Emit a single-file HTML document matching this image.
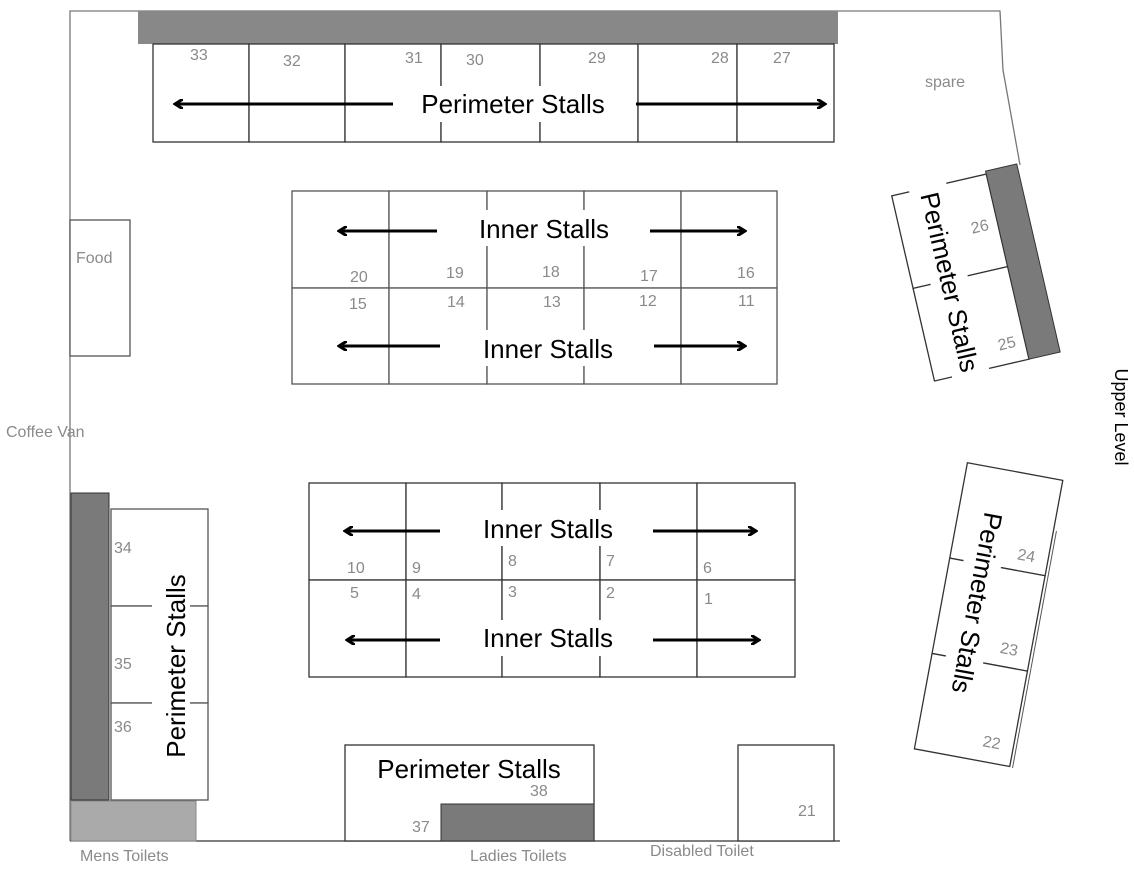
<!DOCTYPE html>
<html><head><meta charset="utf-8"><style>
html,body{margin:0;padding:0;background:#fff;}
svg{display:block;}
.n{font-family:"Liberation Sans",sans-serif;font-size:16px;fill:#8a8a8a;}
.b{font-family:"Liberation Sans",sans-serif;font-size:26px;fill:#000;}
.s{fill:#fff;stroke:#333;stroke-width:1.3;}
.a{stroke:#000;stroke-width:3;fill:none;}
</style></head><body>
<svg width="1134" height="869" viewBox="0 0 1134 869" xmlns="http://www.w3.org/2000/svg">
<defs><marker id="ah" markerWidth="10" markerHeight="10" refX="7" refY="5" orient="auto" markerUnits="userSpaceOnUse"><path d="M0,0 L8,5 L0,10" fill="none" stroke="#000" stroke-width="3"/></marker></defs>
<!-- walls -->
<polyline points="70,841 70,11 1000,11 1003,70 1020,165" fill="none" stroke="#777" stroke-width="1.3"/>
<line x1="70" y1="841" x2="840" y2="841" stroke="#333" stroke-width="1.3"/>
<!-- top -->
<rect x="138" y="11" width="700" height="33" fill="#888"/>
<g class="s">
<rect x="153" y="44" width="96" height="98"/><rect x="249" y="44" width="96" height="98"/><rect x="345" y="44" width="96" height="98"/><rect x="441" y="44" width="99" height="98"/><rect x="540" y="44" width="98" height="98"/><rect x="638" y="44" width="99" height="98"/><rect x="737" y="44" width="97" height="98"/>
</g>
<rect x="412" y="86" width="204" height="36" fill="#fff"/>
<g class="n"><text x="190" y="60">33</text><text x="283" y="66">32</text><text x="405" y="63">31</text><text x="466" y="65">30</text><text x="588" y="63">29</text><text x="711" y="63">28</text><text x="773" y="63">27</text><text x="925" y="87">spare</text></g>
<line class="a" x1="393" y1="104" x2="176" y2="104" marker-end="url(#ah)"/>
<line class="a" x1="636" y1="104" x2="824" y2="104" marker-end="url(#ah)"/>
<text class="b" x="513" y="113" text-anchor="middle">Perimeter Stalls</text>
<!-- inner block 1 -->
<g class="s" style="stroke:#555">
<rect x="292" y="191" width="97" height="97"/><rect x="389" y="191" width="98" height="97"/><rect x="487" y="191" width="97" height="97"/><rect x="584" y="191" width="97" height="97"/><rect x="681" y="191" width="96" height="97"/>
<rect x="292" y="288" width="97" height="96"/><rect x="389" y="288" width="98" height="96"/><rect x="487" y="288" width="97" height="96"/><rect x="584" y="288" width="97" height="96"/><rect x="681" y="288" width="96" height="96"/>
</g>
<rect x="470" y="210" width="148" height="36" fill="#fff"/><rect x="474" y="330" width="148" height="36" fill="#fff"/>
<g class="n"><text x="350" y="282">20</text><text x="446" y="278">19</text><text x="542" y="277">18</text><text x="640" y="281">17</text><text x="737" y="278">16</text>
<text x="349" y="309">15</text><text x="447" y="307">14</text><text x="543" y="307">13</text><text x="639" y="306">12</text><text x="738" y="306">11</text></g>
<line class="a" x1="437" y1="231" x2="340" y2="231" marker-end="url(#ah)"/><line class="a" x1="650" y1="231" x2="744" y2="231" marker-end="url(#ah)"/>
<line class="a" x1="440" y1="346" x2="340" y2="346" marker-end="url(#ah)"/><line class="a" x1="654" y1="346" x2="744" y2="346" marker-end="url(#ah)"/>
<text class="b" x="544" y="238" text-anchor="middle">Inner Stalls</text>
<text class="b" x="548" y="358" text-anchor="middle">Inner Stalls</text>
<!-- inner block 2 -->
<g class="s">
<rect x="309" y="483" width="97" height="97"/><rect x="406" y="483" width="96" height="97"/><rect x="502" y="483" width="98" height="97"/><rect x="600" y="483" width="97" height="97"/><rect x="697" y="483" width="98" height="97"/>
<rect x="309" y="580" width="97" height="97"/><rect x="406" y="580" width="96" height="97"/><rect x="502" y="580" width="98" height="97"/><rect x="600" y="580" width="97" height="97"/><rect x="697" y="580" width="98" height="97"/>
</g>
<rect x="474" y="510" width="148" height="36" fill="#fff"/><rect x="474" y="620" width="148" height="36" fill="#fff"/>
<g class="n"><text x="347" y="573">10</text><text x="412" y="573">9</text><text x="508" y="566">8</text><text x="606" y="566">7</text><text x="703" y="573">6</text>
<text x="350" y="598">5</text><text x="412" y="599">4</text><text x="508" y="597">3</text><text x="606" y="598">2</text><text x="704" y="604">1</text></g>
<line class="a" x1="440" y1="531" x2="346" y2="531" marker-end="url(#ah)"/><line class="a" x1="653" y1="531" x2="755" y2="531" marker-end="url(#ah)"/>
<line class="a" x1="440" y1="640" x2="348" y2="640" marker-end="url(#ah)"/><line class="a" x1="653" y1="640" x2="758" y2="640" marker-end="url(#ah)"/>
<text class="b" x="548" y="538" text-anchor="middle">Inner Stalls</text>
<text class="b" x="548" y="647" text-anchor="middle">Inner Stalls</text>
<!-- food -->
<rect x="70" y="220" width="60" height="136" fill="#fff" stroke="#555" stroke-width="1.3"/>
<text class="n" x="76" y="263">Food</text>
<text class="n" x="6" y="437">Coffee Van</text>
<!-- left perimeter -->
<rect x="71" y="493" width="38" height="307" fill="#7a7a7a" stroke="#333" stroke-width="1"/>
<g class="s" style="stroke:#555"><rect x="111" y="509" width="97" height="97"/><rect x="111" y="606" width="97" height="97"/><rect x="111" y="703" width="97" height="97"/></g>
<rect x="152" y="570" width="38" height="192" fill="#fff"/>
<g class="n"><text x="114" y="553">34</text><text x="114" y="669">35</text><text x="114" y="732">36</text></g>
<text class="b" x="0" y="0" text-anchor="middle" transform="translate(185,666) rotate(-90)">Perimeter Stalls</text>
<rect x="71" y="801" width="125" height="40" fill="#aaa" stroke="#888" stroke-width="1"/>
<text class="n" x="80" y="861">Mens Toilets</text>
<!-- bottom -->
<rect x="345" y="745" width="249" height="96" fill="#fff" stroke="#333" stroke-width="1.3"/>
<rect x="441" y="804" width="153" height="37" fill="#7a7a7a" stroke="#333" stroke-width="1"/>
<text class="b" x="469" y="778" text-anchor="middle">Perimeter Stalls</text>
<g class="n"><text x="530" y="796">38</text><text x="412" y="832">37</text><text x="470" y="861">Ladies Toilets</text><text x="650" y="856">Disabled Toilet</text></g>
<rect x="738" y="745" width="96" height="96" fill="#fff" stroke="#333" stroke-width="1.3"/>
<text class="n" x="798" y="816">21</text>
<!-- right group 1 -->
<g transform="translate(993,270) rotate(-13)">
<rect x="-82" y="-95" width="97" height="95" class="s"/><rect x="-82" y="0" width="97" height="95" class="s"/>
<rect x="-64" y="-100" width="38" height="200" fill="#fff"/>
<rect x="15" y="-98" width="32" height="193" fill="#7a7a7a" stroke="#333" stroke-width="1"/>
<text class="n" x="-12" y="-40">26</text><text class="n" x="-12" y="80">25</text>
<text class="b" x="0" y="0" text-anchor="middle" transform="translate(-54,2) rotate(90)">Perimeter Stalls</text>
</g>
<!-- right group 2 -->
<g transform="translate(988,615) rotate(10.5)">
<rect x="-48" y="-146" width="97" height="97" class="s"/><rect x="-48" y="-49" width="97" height="97" class="s"/><rect x="-48" y="48" width="97" height="97" class="s"/>
<rect x="-34" y="-100" width="38" height="200" fill="#fff"/>
<line x1="52" y1="-95" x2="52" y2="146" stroke="#555" stroke-width="1"/>
<g class="n"><text x="18" y="-60">24</text><text x="18" y="35">23</text><text x="18" y="130">22</text></g>
<text class="b" x="0" y="0" text-anchor="middle" transform="translate(-22,-10) rotate(90)">Perimeter Stalls</text>
</g>
<text x="0" y="0" font-family="Liberation Sans, sans-serif" font-size="18" fill="#000" text-anchor="middle" transform="translate(1115,417) rotate(90)">Upper Level</text>
</svg>
</body></html>
